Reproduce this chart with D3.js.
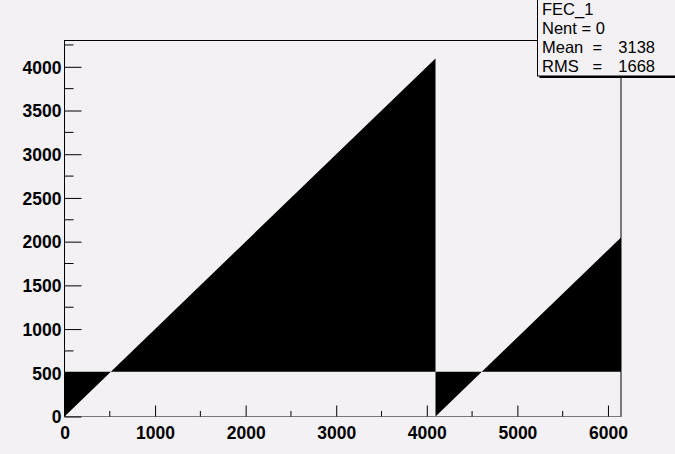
<!DOCTYPE html>
<html><head><meta charset="utf-8">
<script src="https://cdn.jsdelivr.net/npm/d3@7"></script>
<style>
html,body{margin:0;padding:0;background:#f3f1f4;}
svg{display:block;}
text{font-family:"Liberation Sans",Arial,sans-serif;}
</style></head>
<body>
<script>
// Histogram FEC_1 : channel ramp (value = channel mod 4096), filled against baseline 512
const rampX = [0, 4096, 4096, 6144];
const rampY = [0, 4096, 0, 2048];
const fillBaseline = 512;
const xTicks = [0, 1000, 2000, 3000, 4000, 5000, 6000];
const yTicks = [0, 500, 1000, 1500, 2000, 2500, 3000, 3500, 4000];
const statsTitle = "FEC_1";
const statsLabels = ["Nent = 0", "Mean  =", "RMS   ="];
const statsValues = ["", "3138", "1668"];

const W = 675, H = 454;
const L = 64.5, R = 621, T = 40.5, B = 416.5;
const svg = d3.select("body").append("svg").attr("width", W).attr("height", H);

const x = d3.scaleLinear().domain([0, 6144]).range([L, R]);
const y = d3.scaleLinear().domain([0, 4300.8]).range([B, T]);

const pts = rampX.map((v, i) => [v, rampY[i]]);
const area = d3.area().x(d => x(d[0])).y0(y(fillBaseline)).y1(d => y(d[1]));
svg.append("path").attr("d", area(pts)).attr("fill", "#000").attr("fill-rule", "evenodd");

// frame
svg.append("rect").attr("x", L).attr("y", T).attr("width", R - L).attr("height", B - T)
  .attr("fill", "none").attr("stroke", "#000").attr("stroke-width", 1);
svg.append("line").attr("x1", L).attr("x2", R).attr("y1", B).attr("y2", B).attr("stroke", "#777");

// x axis
const xAxis = d3.axisBottom(x).tickValues(xTicks).tickSize(-11).tickPadding(6).tickFormat(d3.format("d"));
const gx = svg.append("g").attr("transform", `translate(0,${B})`).call(xAxis);
gx.select(".domain").remove();
gx.selectAll(".tick text").attr("font-size", 17.5).attr("font-weight", "bold").attr("fill", "#000").attr("dy", "1.05em").attr("y", 4);
const xMinor = d3.range(500, 6144, 1000);
gx.selectAll(".minor").data(xMinor).enter().append("line")
  .attr("x1", d => x(d)).attr("x2", d => x(d)).attr("y1", 0).attr("y2", -5.5).attr("stroke", "#000");

// y axis
const yAxis = d3.axisLeft(y).tickValues(yTicks).tickSize(-17).tickPadding(5).tickFormat(d3.format("d"));
const gy = svg.append("g").attr("transform", `translate(${L},0)`).call(yAxis);
gy.select(".domain").remove();
gy.selectAll(".tick text").attr("font-size", 17.5).attr("font-weight", "bold").attr("fill", "#000").attr("x", -3).attr("dy", "0.36em");
const yMinor = d3.range(250, 4300, 500);
gy.selectAll(".minor").data(yMinor).enter().append("line")
  .attr("y1", d => y(d)).attr("y2", d => y(d)).attr("x1", 0).attr("x2", 9).attr("stroke", "#000");

// stats box
const bx = 537.5, by = -1, bw = 140, bh = 77;
svg.append("rect").attr("x", bx + 2).attr("y", by + 2).attr("width", bw).attr("height", bh).attr("fill", "#000");
svg.append("rect").attr("x", bx).attr("y", by).attr("width", bw).attr("height", bh)
  .attr("fill", "#f3f1f4").attr("stroke", "#000").attr("stroke-width", 1);
svg.append("text").attr("x", 542).attr("y", 15).attr("font-size", 16.5).text(statsTitle);
statsLabels.forEach((lab, i) => {
  const yy = 34 + i * 19;
  svg.append("text").attr("x", 542).attr("y", yy).attr("font-size", 16.5).attr("xml:space", "preserve").style("white-space", "pre").text(lab);
  if (statsValues[i]) svg.append("text").attr("x", 655).attr("y", yy).attr("font-size", 16.5).attr("text-anchor", "end").text(statsValues[i]);
});
</script>
</body></html>
